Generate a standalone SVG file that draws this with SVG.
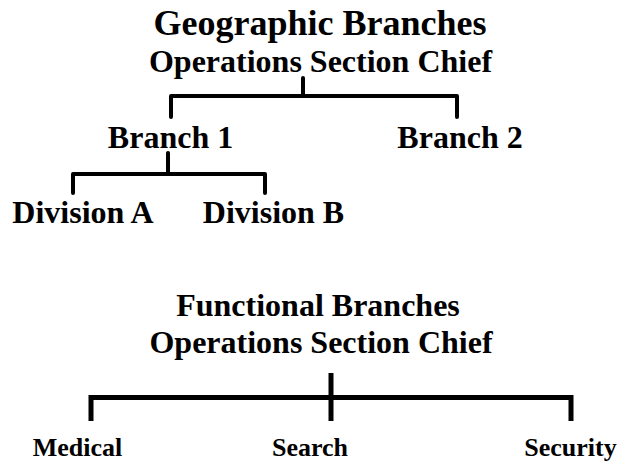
<svg xmlns="http://www.w3.org/2000/svg" width="620" height="463" viewBox="0 0 620 463">
<style>
text{font-family:"Liberation Serif","Times New Roman",serif;font-weight:bold;fill:#000;text-anchor:middle}
.t{font-size:36px}
.h{font-size:32px}
.s{font-size:26px}
.c1{fill:none;stroke:#000;stroke-width:4;stroke-linejoin:round;stroke-linecap:round}
.c2{fill:none;stroke:#000;stroke-width:5;stroke-linejoin:miter;stroke-linecap:butt}
</style>
<rect width="620" height="463" fill="#fff"/>
<g id="geo-title"><text class="t" x="320" y="35">Geographic Branches</text></g>
<g id="geo-chief"><text class="h" x="320.5" y="72">Operations Section Chief</text></g>
<g id="branch1"><text class="h" x="170.5" y="148">Branch 1</text></g>
<g id="branch2"><text class="h" x="460" y="148">Branch 2</text></g>
<g id="divisionA"><text class="h" x="83" y="223">Division A</text></g>
<g id="divisionB"><text class="h" x="273.5" y="223">Division B</text></g>
<g id="func-title"><text class="h" x="318" y="316">Functional Branches</text></g>
<g id="func-chief"><text class="h" x="321" y="353">Operations Section Chief</text></g>
<g id="medical"><text class="s" x="77.5" y="456">Medical</text></g>
<g id="search"><text class="s" x="310" y="456">Search</text></g>
<g id="security"><text class="s" x="570.5" y="456">Security</text></g>
<g id="connectors">
<path class="c1" d="M303 78V96"/>
<path class="c1" d="M171 117V96H457V117"/>
<path class="c1" d="M168 153V174"/>
<path class="c1" d="M73 193V174H265V193"/>
<path class="c2" d="M91 421V397.5H571V421"/>
<path class="c2" d="M331 373V421"/>
</g>
</svg>
